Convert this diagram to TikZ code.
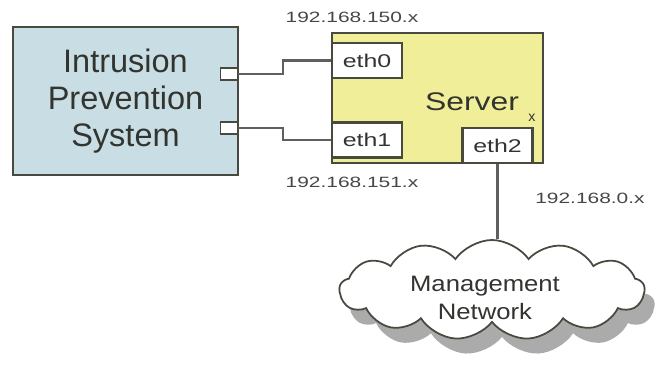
\documentclass[tikz,border=0pt]{standalone}
\usepackage{fontspec}
\setmainfont{Liberation Sans}
\usetikzlibrary{shapes.symbols,shadows}

\definecolor{ipsblue}{RGB}{201,222,228}
\definecolor{srvyellow}{RGB}{240,238,152}
\definecolor{boxedge}{RGB}{72,74,64}
\definecolor{wiregrey}{RGB}{95,95,95}
\definecolor{txtgrey}{RGB}{50,52,48}
\definecolor{lblgrey}{RGB}{70,70,70}

\begin{document}
\begin{tikzpicture}[x=0.02cm,y=-0.02cm]
    \tikzset{
      box/.style={draw=boxedge,line width=1.4pt,inner sep=0pt},
      ethbox/.style={box,fill=white,minimum width=1.4cm,minimum height=0.7cm,
        font=\fontsize{10.5}{12}\selectfont,text=txtgrey},
      port/.style={draw=boxedge,line width=1pt,fill=white,inner sep=0pt,
        minimum width=0.34cm,minimum height=0.24cm},
      iplbl/.style={font=\fontsize{8.5}{10}\selectfont,text=lblgrey,inner sep=0pt,anchor=base},
      wire/.style={draw=wiregrey,line width=1.3pt}
    }
    \useasboundingbox (0,0) rectangle (657,378);
    % intrusion prevention system
    \node[box,fill=ipsblue,minimum width=4.5cm,minimum height=2.96cm,align=center,
      font=\fontsize{18.5}{21}\selectfont,text=txtgrey] (ips) at (125.5,101)
      {Intrusion\\Prevention\\System};
    \node[port] (ipsport0) at (229,74) {};
    \node[port] (ipsport1) at (229,128) {};
    % server
    \node[box,fill=srvyellow,minimum width=4.22cm,minimum height=2.6cm] (srv) at (437.5,98) {};
    \node[anchor=base,font=\fontsize{14.5}{16}\selectfont,text=txtgrey,inner sep=0pt]
      (srvname) at (472,111) {\scalebox{1.25}[1]{Server}};
    \node[anchor=base,font=\fontsize{8}{9}\selectfont,text=txtgrey,inner sep=0pt]
      (srvsub) at (532,122) {x};
    \node[ethbox] (eth0) at (367,60.5) {\scalebox{1.35}[1]{eth0}};
    \node[ethbox] (eth1) at (367,140) {\scalebox{1.35}[1]{eth1}};
    \node[ethbox] (eth2) at (497.5,145.5) {\scalebox{1.35}[1]{eth2}};
    % subnets
    \node[iplbl] (net150) at (352,23) {\scalebox{1.4}[1]{192.168.150.x}};
    \node[iplbl] (net151) at (352,188) {\scalebox{1.4}[1]{192.168.151.x}};
    \node[iplbl] (net0) at (590,204) {\scalebox{1.4}[1]{192.168.0.x}};
    % management network
    \node[cloud,cloud puffs=13,cloud puff arc=110,cloud ignores aspect,
      minimum width=6.1cm,minimum height=2cm,draw=boxedge,line width=1pt,fill=white,
      drop shadow={shadow xshift=0.2cm,shadow yshift=-0.3cm,fill=black!55,opacity=0.6}]
      (mgmt) at (492,290) {};
    \node[align=center,font=\fontsize{12.7}{16.4}\selectfont,text=txtgrey] (mgmtname) at (485,298)
      {\scalebox{1.15}[1]{Management}\\\scalebox{1.15}[1]{Network}};
    % links
    \coordinate (bend0) at (283,74);
    \coordinate (bend1) at (283,128);
    \draw[wire] (ipsport0.east) -- (bend0) |- (eth0.west);
    \draw[wire] (ipsport1.east) -- (bend1) |- (eth1.west);
    \draw[wire] (eth2.south) -- (eth2.south |- mgmt.north);
\end{tikzpicture}
\end{document}
